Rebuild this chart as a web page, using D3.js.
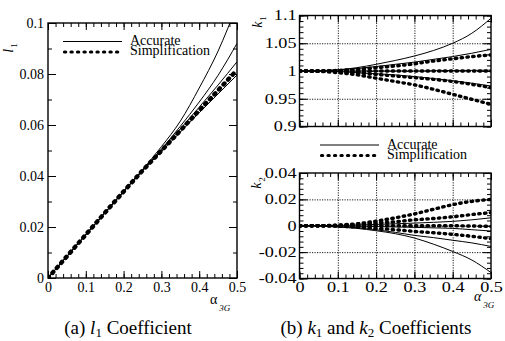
<!DOCTYPE html>
<html>
<head>
<meta charset="utf-8">
<script src="https://cdn.jsdelivr.net/npm/d3@7"></script>
<style>
    body { margin: 0; background: #fff; }
</style>
</head>
<body>
<svg id="fig" width="505" height="341" font-family="Liberation Serif"></svg>
<script>
// alpha_3G sample points
const alpha = [0, 0.05, 0.1, 0.15, 0.2, 0.25, 0.3, 0.35, 0.4, 0.45, 0.5];

// (a) l1 coefficient
const l1Accurate = [
    [0, 0.0085, 0.017, 0.0255, 0.034, 0.0425, 0.0515, 0.0615, 0.0745, 0.089, 0.107],
    [0, 0.0085, 0.017, 0.0255, 0.034, 0.0423, 0.0505, 0.0595, 0.069, 0.0795, 0.092],
    [0, 0.0085, 0.017, 0.0255, 0.034, 0.0422, 0.0502, 0.0585, 0.067, 0.0757, 0.0848],
    [0, 0.0085, 0.017, 0.0255, 0.0338, 0.042, 0.0496, 0.0572, 0.0648, 0.0722, 0.0796]
];
const l1Simplified = [
    [0, 0.0085, 0.017, 0.0255, 0.0339, 0.0421, 0.0499, 0.0578, 0.0657, 0.0736, 0.0816]
];

// (b) k1 coefficient
const k1Accurate = [
    [1, 1.0005, 1.002, 1.006, 1.012, 1.019, 1.027, 1.037, 1.05, 1.068, 1.095],
    [1, 1.0005, 1.002, 1.0045, 1.008, 1.012, 1.016, 1.021, 1.026, 1.032, 1.039],
    [1, 1, 1, 1, 1, 1, 1, 1.0005, 1.001, 1.001, 1.0015],
    [1, 1, 0.999, 0.997, 0.995, 0.993, 0.990, 0.9865, 0.9825, 0.978, 0.973]
];
const k1Simplified = [
    [1, 1, 1.001, 1.003, 1.006, 1.009, 1.013, 1.018, 1.022, 1.026, 1.029],
    [1, 1, 1, 1, 1, 1, 1, 1, 1, 1, 1],
    [1, 1, 0.999, 0.997, 0.994, 0.991, 0.988, 0.985, 0.981, 0.976, 0.970],
    [1, 0.9995, 0.997, 0.993, 0.987, 0.981, 0.975, 0.967, 0.958, 0.949, 0.940]
];

// (b) k2 coefficient
const k2Accurate = [
    [0, 0, 0.0002, 0.0005, 0.001, 0.0015, 0.002, 0.0026, 0.0033, 0.0045, 0.006],
    [0, 0, -0.0001, -0.0003, -0.0006, -0.0009, -0.0012, -0.0016, -0.002, -0.003, -0.004],
    [0, -0.0001, -0.0007, -0.0015, -0.003, -0.005, -0.0073, -0.009, -0.011, -0.013, -0.0157],
    [0, -0.0002, -0.001, -0.002, -0.0038, -0.006, -0.0093, -0.014, -0.0195, -0.026, -0.0355]
];
const k2Simplified = [
    [0, 0, 0.0005, 0.0015, 0.0035, 0.006, 0.009, 0.0125, 0.016, 0.0185, 0.020],
    [0, 0, 0.0003, 0.001, 0.002, 0.003, 0.0045, 0.0055, 0.0068, 0.0085, 0.010],
    [0, 0, 0, 0, 0, 0, 0, 0, 0, -0.0002, -0.0005],
    [0, 0, -0.0003, -0.001, -0.002, -0.003, -0.0043, -0.0053, -0.0065, -0.008, -0.0098]
];

// tick labels
const xTicks = [0, 0.1, 0.2, 0.3, 0.4, 0.5];
const l1Ticks = [0, 0.02, 0.04, 0.06, 0.08, 0.1];
const k1Ticks = [0.9, 0.95, 1, 1.05, 1.1];
const k2Ticks = [-0.04, -0.02, 0, 0.02, 0.04];
const legendLabels = ["Accurate", "Simplification"];

const FONT = "Liberation Serif";
const svg = d3.select("#fig");
const fmt = (d) => String(+d.toFixed(3));

function drawPanel(opt) {
    const w = opt.x1 - opt.x0;
    const h = opt.y1 - opt.y0;
    const g = svg.append("g").attr("transform", `translate(${opt.x0},${opt.y0})`);
    const x = d3.scaleLinear().domain([0, 0.5]).range([0, w]);
    const y = d3.scaleLinear().domain(opt.yDomain).range([h, 0]);

    const clipId = "clip-" + opt.name;
    g.append("clipPath").attr("id", clipId)
        .append("rect").attr("width", w).attr("height", h);

    if(opt.grid) {
        // dotted grid on the major ticks
        g.append("g").attr("class", "grid")
            .attr("transform", `translate(0,${h})`)
            .call(d3.axisBottom(x).tickValues(xTicks.slice(1, -1)).tickSize(-h).tickFormat(""));
        g.append("g").attr("class", "grid")
            .call(d3.axisLeft(y).tickValues(opt.yTicks.slice(1, -1)).tickSize(-w).tickFormat(""));
        g.selectAll(".grid line").attr("stroke", "#000").attr("stroke-width", 0.9)
            .attr("stroke-dasharray", "1.2,1.3");
        g.selectAll(".grid .domain").remove();
    }

    const lineGen = d3.line()
        .x((d, i) => x(alpha[i]))
        .y((d) => y(d))
        .curve(d3.curveMonotoneX);

    const plot = g.append("g").attr("clip-path", `url(#${clipId})`);
    plot.selectAll(".acc").data(opt.accurate).join("path")
        .attr("class", "acc")
        .attr("fill", "none")
        .attr("stroke", "#000")
        .attr("stroke-width", 1)
        .attr("d", lineGen);
    plot.selectAll(".simp").data(opt.simplified).join("path")
        .attr("class", "simp")
        .attr("fill", "none")
        .attr("stroke", "#000")
        .attr("stroke-width", opt.dotWidth)
        .attr("stroke-linecap", "round")
        .attr("stroke-dasharray", opt.dotDash)
        .attr("d", lineGen);

    // ticks inside on all four sides
    const minorX = d3.range(0, 0.5001, 0.02);
    const minorY = d3.range(opt.yDomain[0], opt.yDomain[1] + 1e-9, opt.yMinor);
    const axes = g.append("g").attr("class", "axes");
    axes.append("g").attr("transform", `translate(0,${h})`)
        .call(d3.axisBottom(x).tickValues(minorX).tickSize(-4).tickFormat(""));
    axes.append("g")
        .call(d3.axisTop(x).tickValues(minorX).tickSize(-4).tickFormat(""));
    axes.append("g")
        .call(d3.axisLeft(y).tickValues(minorY).tickSize(-4).tickFormat(""));
    axes.append("g").attr("transform", `translate(${w},0)`)
        .call(d3.axisRight(y).tickValues(minorY).tickSize(-4).tickFormat(""));

    const xb = axes.append("g").attr("transform", `translate(0,${h})`)
        .call(d3.axisBottom(x).tickValues(xTicks).tickSize(-7).tickSizeOuter(0)
            .tickPadding(opt.xPad).tickFormat(opt.showX ? fmt : ""));
    axes.append("g")
        .call(d3.axisTop(x).tickValues(xTicks).tickSize(-7).tickSizeOuter(0).tickFormat(""));
    const yl = axes.append("g")
        .call(d3.axisLeft(y).tickValues(opt.yTicks).tickSize(-8).tickSizeOuter(0)
            .tickPadding(opt.yPad).tickFormat(fmt));
    axes.append("g").attr("transform", `translate(${w},0)`)
        .call(d3.axisRight(y).tickValues(opt.yTicks).tickSize(-8).tickSizeOuter(0).tickFormat(""));

    axes.selectAll(".domain").remove();
    axes.selectAll("g").attr("font-family", FONT);
    axes.selectAll("line").attr("stroke", "#000").attr("stroke-width", 1);
    axes.selectAll("text").attr("fill", "#000").attr("font-size", 14);
    if(opt.stretch) {
        // the right-hand panels have horizontally stretched numbers
        xb.selectAll("text").attr("transform", `scale(${opt.stretch},1)`);
        yl.selectAll("text").attr("transform", `scale(${opt.stretch},1)`);
    }

    g.append("rect")
        .attr("width", w).attr("height", h)
        .attr("fill", "none").attr("stroke", "#000").attr("stroke-width", 1.4);

    return g;
}

drawPanel({
    name: "l1", x0: 48, x1: 237, y0: 23, y1: 278,
    yDomain: [0, 0.1], yTicks: l1Ticks, yMinor: 0.01,
    accurate: l1Accurate, simplified: l1Simplified,
    dotWidth: 4.4, dotDash: "1.4,5.3",
    showX: true, xPad: 4.5, yPad: 4, grid: false
});
drawPanel({
    name: "k1", x0: 299.5, x1: 491, y0: 15.5, y1: 126.5,
    yDomain: [0.9, 1.1], yTicks: k1Ticks, yMinor: 0.01,
    accurate: k1Accurate, simplified: k1Simplified,
    dotWidth: 3.4, dotDash: "1.4,4.4",
    showX: false, xPad: 3.5, yPad: 2.3, grid: true, stretch: 1.3
});
drawPanel({
    name: "k2", x0: 299.5, x1: 491, y0: 173, y1: 278.5,
    yDomain: [-0.04, 0.04], yTicks: k2Ticks, yMinor: 0.004,
    accurate: k2Accurate, simplified: k2Simplified,
    dotWidth: 3.4, dotDash: "1.4,4.4",
    showX: true, xPad: 3.5, yPad: 2.3, grid: true, stretch: 1.3
});

// legends
function drawLegend(lx, ly) {
    const lg = svg.append("g").attr("transform", `translate(${lx},${ly})`);
    lg.append("line").attr("x1", 0).attr("x2", 59).attr("y1", 0).attr("y2", 0)
        .attr("stroke", "#000").attr("stroke-width", 1);
    lg.append("line").attr("x1", 1.5).attr("x2", 59).attr("y1", 10.5).attr("y2", 10.5)
        .attr("stroke", "#000").attr("stroke-width", 3.2)
        .attr("stroke-linecap", "round").attr("stroke-dasharray", "1.2,5.3");
    lg.selectAll("text").data(legendLabels).join("text")
        .attr("x", 67)
        .attr("y", (d, i) => 3.6 + i * 10)
        .attr("font-size", 14)
        .text((d) => d);
}
drawLegend(63, 41.5);
drawLegend(320, 145);

// axis titles
function subLabel(x, y, main, sub) {
    const t = svg.append("text")
        .attr("transform", `translate(${x},${y}) rotate(-90)`)
        .attr("text-anchor", "middle")
        .attr("font-size", 14);
    t.append("tspan").attr("font-style", "italic").text(main);
    t.append("tspan").attr("font-size", 9).attr("dy", 4).attr("dx", 1).text(sub);
    return t;
}
subLabel(13, 48, "l", "1");
subLabel(262, 22, "k", "1");
subLabel(261, 183, "k", "2");

const alphaLeft = svg.append("text").attr("x", 210).attr("y", 304).attr("font-size", 14);
alphaLeft.append("tspan").text("α");
alphaLeft.append("tspan").attr("font-size", 9).attr("font-style", "italic")
    .attr("dx", 2).attr("dy", 7).text("3G");
const alphaRight = svg.append("text").attr("x", 474).attr("y", 301).attr("font-size", 14);
alphaRight.append("tspan").attr("font-style", "italic").text("α");
alphaRight.append("tspan").attr("font-size", 9).attr("font-style", "italic")
    .attr("dx", 2).attr("dy", 7).text("3G");

// captions
const capA = svg.append("text").attr("x", 128).attr("y", 334)
    .attr("text-anchor", "middle").attr("font-size", 19);
capA.append("tspan").text("(a) ");
capA.append("tspan").attr("font-style", "italic").text("l");
capA.append("tspan").attr("font-size", 13).attr("dy", 3).text("1");
capA.append("tspan").attr("dy", -3).text(" Coefficient");

const capB = svg.append("text").attr("x", 376).attr("y", 334)
    .attr("text-anchor", "middle").attr("font-size", 19);
capB.append("tspan").text("(b) ");
capB.append("tspan").attr("font-style", "italic").text("k");
capB.append("tspan").attr("font-size", 13).attr("dy", 3).text("1");
capB.append("tspan").attr("dy", -3).text(" and ");
capB.append("tspan").attr("font-style", "italic").text("k");
capB.append("tspan").attr("font-size", 13).attr("dy", 3).text("2");
capB.append("tspan").attr("dy", -3).text(" Coefficients");

svg.selectAll("text").attr("font-family", FONT);
</script>
</body>
</html>
